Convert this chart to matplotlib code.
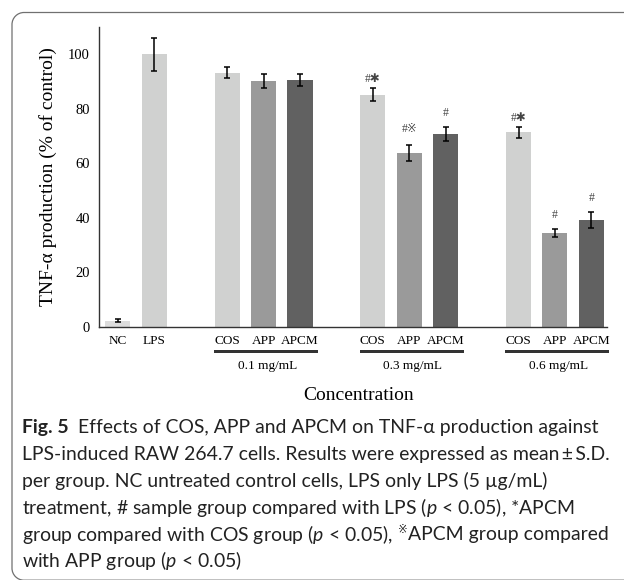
import matplotlib
matplotlib.use("Agg")
import matplotlib.pyplot as plt
from matplotlib.patches import PathPatch, Rectangle
from matplotlib.path import Path
from matplotlib.transforms import IdentityTransform

# 数据
bar_labels = ["NC", "LPS", "COS", "APP", "APCM", "COS", "APP", "APCM", "COS", "APP", "APCM"]
values = [2.3, 100.0, 93.3, 90.1, 90.5, 85.2, 63.8, 70.7, 71.4, 34.4, 39.2]
errors = [0.5, 6.0, 2.0, 2.5, 2.2, 2.4, 2.8, 2.5, 2.1, 1.5, 2.9]
marks = ["", "", "", "", "", "#\u2731", "#\u203b", "#", "#\u2731", "#", "#"]
conc_labels = ["0.1 mg/mL", "0.3 mg/mL", "0.6 mg/mL"]

bar_colors = {"NC": "#dcdcdc", "LPS": "#d0d1d0", "COS": "#d0d1d0",
              "APP": "#9a9a9a", "APCM": "#616161"}

caption = [
    [("Fig. 5", "b"), ("gap", 2), ("Effects of COS, APP and APCM on TNF-\u03b1 production against", "n")],
    [("LPS-induced RAW 264.7 cells. Results were expressed as mean\u2009\u00b1\u2009S.D.", "n")],
    [("per group. NC untreated control cells, LPS only LPS (5 \u00b5g/mL)", "n")],
    [("treatment, # sample group compared with LPS ($\\mathit{p}$ < 0.05), *APCM", "n")],
    [("group compared with COS group ($\\mathit{p}$ < 0.05),", "n"), ("gap", 1), ("\u203b", "s"),
     ("APCM group compared", "n")],
    [("with APP group ($\\mathit{p}$ < 0.05)", "n")],
]

W, H = 624, 580
serif = ["Liberation Serif", "DejaVu Serif"]
cap_family = ["Lato", "DejaVu Sans"]
plt.rcParams["mathtext.fontset"] = "custom"
plt.rcParams["mathtext.rm"] = "Lato"
plt.rcParams["mathtext.it"] = "Lato:italic"

fig = plt.figure(figsize=(W / 100, H / 100), dpi=100)
ax = fig.add_axes([99 / W, 1 - 327 / H, 508 / W, 300 / H])

# 柱子的位置：NC, LPS，然后三组各三根
x = [0, 1] + [3 + 4 * g + i for g in range(3) for i in range(3)]
colors = [bar_colors[b] for b in bar_labels]

ax.bar(x, values, width=0.69, color=colors, zorder=2)
ax.errorbar(x, values, yerr=errors, fmt="none", ecolor="black",
            elinewidth=1.1, capsize=2.5, capthick=1.1, zorder=3)

# 显著性标记
offsets = {"#": 14, "#\u2731": 9, "#\u203b": 16}
for xi, v, e, m in zip(x, values, errors, marks):
    if m:
        ax.annotate(m, (xi, v + e), xytext=(0, offsets[m]), textcoords="offset pixels",
                    ha="center", va="center", fontsize=8.5, color="#444444",
                    family=["Liberation Serif", "DejaVu Sans", "Noto Sans CJK JP"])

ax.set_xlim(-0.52, 13.43)
ax.set_ylim(0, 110)
ax.set_yticks([0, 20, 40, 60, 80, 100])
ax.set_xticks(x)
ax.set_xticklabels(bar_labels)
for lab in ax.get_xticklabels() + ax.get_yticklabels():
    lab.set_family(serif)
ax.tick_params(axis="y", length=0, pad=6.5, labelsize=10.5)
ax.tick_params(axis="x", length=0, pad=5.5, labelsize=9.5)
for s in ["top", "right"]:
    ax.spines[s].set_visible(False)
for s in ["left", "bottom"]:
    ax.spines[s].set_color("#333333")
    ax.spines[s].set_linewidth(1.0)

ax.set_ylabel("TNF-\u03b1 production (% of control)", family=serif, fontsize=14, labelpad=8)

# 浓度分组下划线（细长矩形，像素坐标）和标签
for g, lab in enumerate(conc_labels):
    c0 = x[2 + 3 * g]
    c2 = x[4 + 3 * g]
    px0 = ax.transData.transform((c0 - 0.36, 0))[0]
    px1 = ax.transData.transform((c2 + 0.5, 0))[0]
    fig.add_artist(Rectangle((round(px0), H - 353), round(px1 - px0), 3,
                             transform=IdentityTransform(), facecolor="#333333",
                             edgecolor="none", zorder=10))
    ax.text((c0 + c2) / 2 + 0.1, -0.13, lab, transform=ax.get_xaxis_transform(),
            ha="center", va="center", family=serif, fontsize=9.5)
ax.text(0.51, -0.23, "Concentration", transform=ax.transAxes, ha="center", va="center",
        family=serif, fontsize=14)

# 外框：左上、左下圆角，右侧和底部超出画面
r = 12
left, top, bot = 12, H - 12.5, -0.2
k = 0.5523
verts = [(W + 10, top), (left + r, top),
         (left + r - k * r, top), (left, top - r + k * r), (left, top - r),
         (left, bot + r),
         (left, bot + r - k * r), (left + r - k * r, bot), (left + r, bot),
         (W + 10, bot)]
codes = [Path.MOVETO, Path.LINETO, Path.CURVE4, Path.CURVE4, Path.CURVE4,
         Path.LINETO, Path.CURVE4, Path.CURVE4, Path.CURVE4, Path.LINETO]
fig.add_artist(PathPatch(Path(verts, codes), transform=IdentityTransform(),
                         facecolor="none", edgecolor="#707070", linewidth=0.9))

# 图注
renderer = fig.canvas.get_renderer()


def layout(size, draw_list):
    right = 0
    for i, line in enumerate(caption):
        y = 428 + 26.6 * i
        xp = 22
        for text, st in line:
            if text == "gap":
                xp += st * 0.24 * size * 100 / 72
                continue
            kw = dict(fontsize=size, family=cap_family, color="#222222")
            yy = y
            if st == "b":
                kw["weight"] = "bold"
            if st == "s":
                kw["fontsize"] = size * 0.6
                kw["family"] = ["DejaVu Sans", "Noto Sans CJK JP"]
                yy = y - 5
            t = fig.text(xp / W, 1 - yy / H, text, ha="left", va="center", **kw)
            xp += t.get_window_extent(renderer=renderer).width
            draw_list.append(t)
        right = max(right, xp)
    return right


tmp = []
rr = layout(12, tmp)
for t in tmp:
    t.remove()
size = 12 * (610 - 22) / (rr - 22)
layout(size, [])

fig.savefig("out.png", dpi=100)
